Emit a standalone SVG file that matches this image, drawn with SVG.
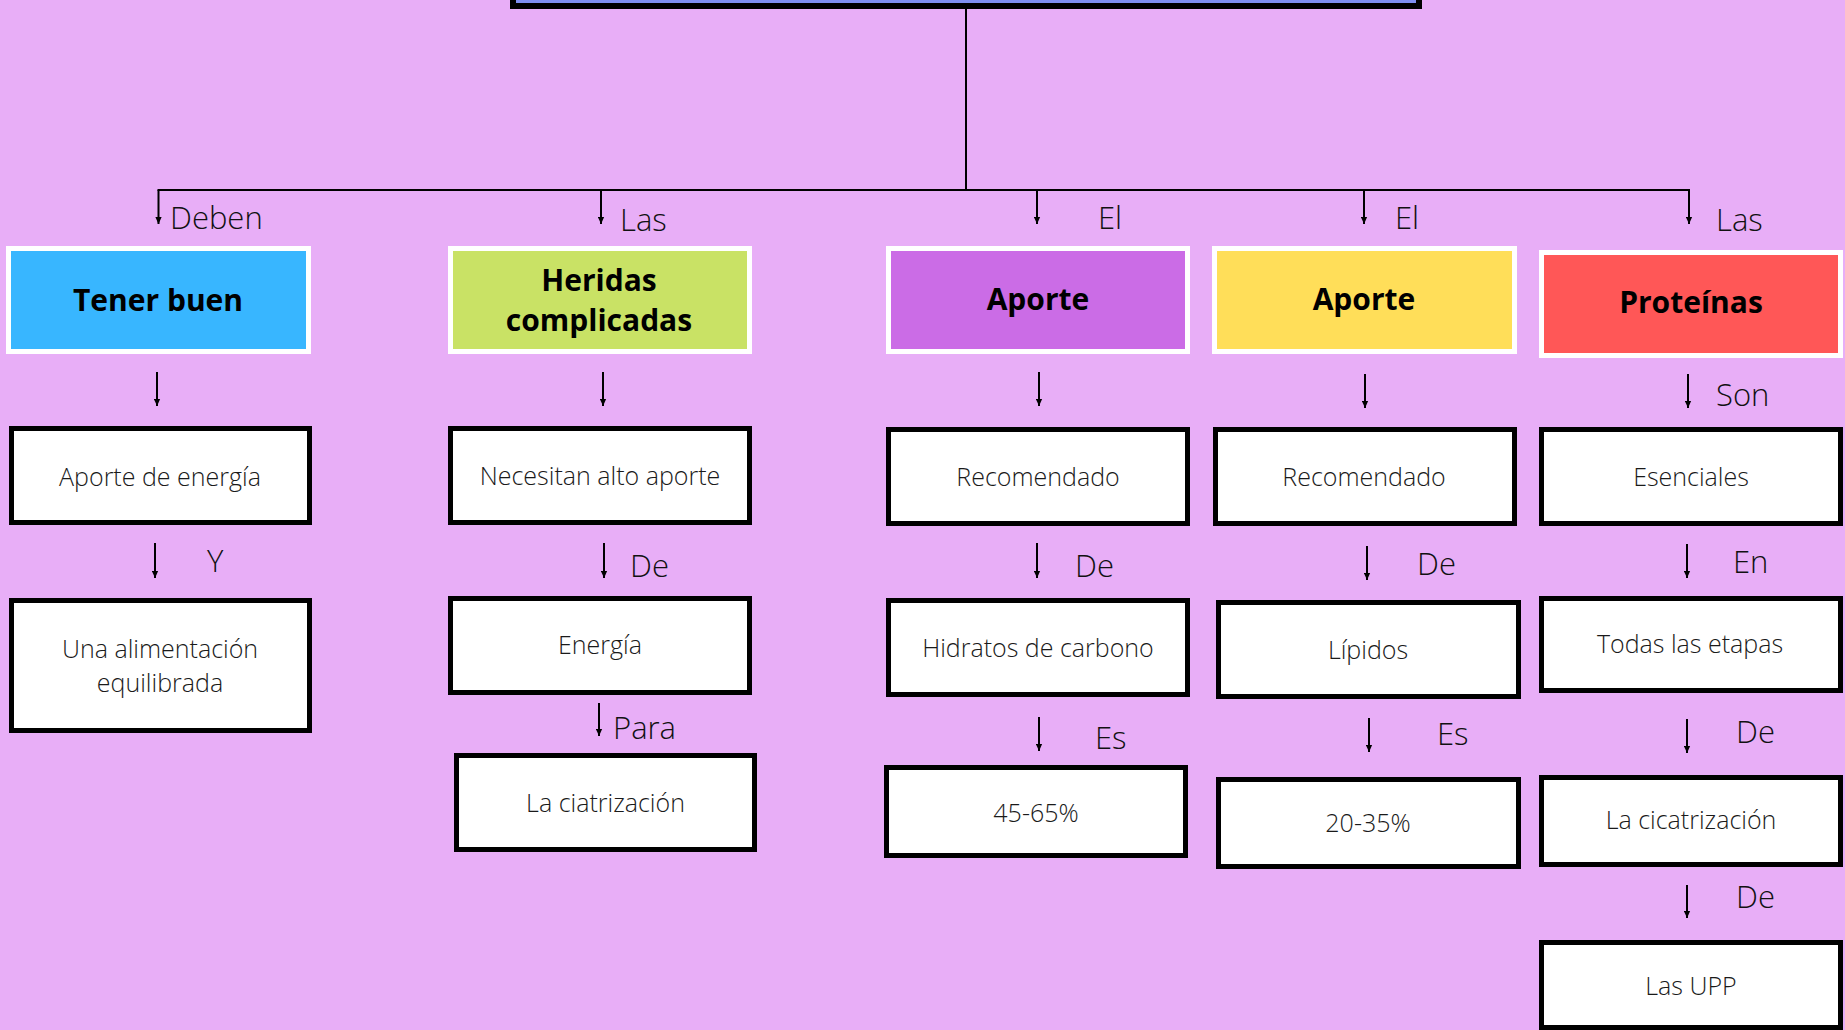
<svg xmlns="http://www.w3.org/2000/svg" width="1845" height="1030" viewBox="0 0 1845 1030">
<defs>
<style>
.bg{fill:#E8AEF7}
.hdr{stroke:#FFFFFF;stroke-width:5}
.box{fill:#FFFFFF;stroke:#000000;stroke-width:5}
.ht{font-family:"Open Sans","Liberation Sans",sans-serif;font-weight:700;font-size:30px;fill:#000;text-anchor:middle}
.bt{font-family:"Open Sans","Liberation Sans",sans-serif;font-weight:300;font-size:25px;fill:#1a1a1a;text-anchor:middle}
.lb{font-family:"Open Sans","Liberation Sans",sans-serif;font-weight:300;font-size:31px;fill:#111}
.ln{stroke:#000;stroke-width:2;fill:none}
</style>
<marker id="ah" viewBox="0 0 10 10" refX="10" refY="5" markerWidth="7" markerHeight="7" markerUnits="userSpaceOnUse" orient="auto"><path d="M0,0.5 L10,5 L0,9.5 z" fill="#000"/></marker>
</defs>
<rect class="bg" x="0" y="0" width="1845" height="1030"/>

<g id="top">
<rect x="513" y="-100" width="906" height="106" fill="#7F8FF0" stroke="#000" stroke-width="6"/>
</g>

<g id="connectors">
<line class="ln" x1="966" y1="6" x2="966" y2="190"/>
<line class="ln" x1="157.5" y1="190" x2="1690" y2="190"/>
<line class="ln" x1="158.5" y1="190" x2="158.5" y2="224" marker-end="url(#ah)"/>
<line class="ln" x1="601" y1="190" x2="601" y2="224" marker-end="url(#ah)"/>
<line class="ln" x1="1037" y1="190" x2="1037" y2="224" marker-end="url(#ah)"/>
<line class="ln" x1="1364" y1="190" x2="1364" y2="224" marker-end="url(#ah)"/>
<line class="ln" x1="1689" y1="190" x2="1689" y2="224" marker-end="url(#ah)"/>
<line class="ln" x1="157" y1="372" x2="157" y2="406" marker-end="url(#ah)"/>
<line class="ln" x1="155" y1="543" x2="155" y2="578" marker-end="url(#ah)"/>
<line class="ln" x1="603" y1="372" x2="603" y2="406" marker-end="url(#ah)"/>
<line class="ln" x1="604" y1="543" x2="604" y2="578" marker-end="url(#ah)"/>
<line class="ln" x1="599" y1="703" x2="599" y2="736" marker-end="url(#ah)"/>
<line class="ln" x1="1039" y1="372" x2="1039" y2="406" marker-end="url(#ah)"/>
<line class="ln" x1="1037" y1="543" x2="1037" y2="578" marker-end="url(#ah)"/>
<line class="ln" x1="1039" y1="717" x2="1039" y2="751" marker-end="url(#ah)"/>
<line class="ln" x1="1365" y1="374" x2="1365" y2="408" marker-end="url(#ah)"/>
<line class="ln" x1="1367" y1="546" x2="1367" y2="580" marker-end="url(#ah)"/>
<line class="ln" x1="1369" y1="718" x2="1369" y2="752" marker-end="url(#ah)"/>
<line class="ln" x1="1688" y1="374" x2="1688" y2="408" marker-end="url(#ah)"/>
<line class="ln" x1="1687" y1="544" x2="1687" y2="578" marker-end="url(#ah)"/>
<line class="ln" x1="1687" y1="719" x2="1687" y2="753" marker-end="url(#ah)"/>
<line class="ln" x1="1687" y1="885" x2="1687" y2="918" marker-end="url(#ah)"/>
<text class="lb" x="170" y="229">Deben</text>
<text class="lb" x="620" y="231">Las</text>
<text class="lb" x="1098" y="229">El</text>
<text class="lb" x="1395" y="229">El</text>
<text class="lb" x="1716" y="231">Las</text>
<text class="lb" x="207" y="572">Y</text>
<text class="lb" x="630" y="577">De</text>
<text class="lb" x="613" y="739">Para</text>
<text class="lb" x="1075" y="577">De</text>
<text class="lb" x="1095" y="749">Es</text>
<text class="lb" x="1417" y="575">De</text>
<text class="lb" x="1437" y="745">Es</text>
<text class="lb" x="1716" y="406">Son</text>
<text class="lb" x="1733" y="573">En</text>
<text class="lb" x="1736" y="743">De</text>
<text class="lb" x="1736" y="908">De</text>
</g>

<g id="n-tener">
<rect class="hdr" x="8.5" y="248.5" width="300" height="103" fill="#38B6FF"/>
<text class="ht" x="158" y="311">Tener buen</text>
</g>
<g id="n-heridas">
<rect class="hdr" x="450.5" y="248.5" width="299" height="103" fill="#C9E265"/>
<text class="ht" x="599" y="291">Heridas</text>
<text class="ht" x="599" y="331">complicadas</text>
</g>
<g id="n-aporte1">
<rect class="hdr" x="888.5" y="248.5" width="299" height="103" fill="#CB6CE6"/>
<text class="ht" x="1038" y="310">Aporte</text>
</g>
<g id="n-aporte2">
<rect class="hdr" x="1214.5" y="248.5" width="300" height="103" fill="#FFDE59"/>
<text class="ht" x="1364" y="310">Aporte</text>
</g>
<g id="n-proteinas">
<rect class="hdr" x="1541.5" y="252.5" width="299" height="103" fill="#FF5757"/>
<text class="ht" x="1691" y="313">Proteínas</text>
</g>

<g id="n-a1"><rect class="box" x="11.5" y="428.5" width="298" height="94"/><text class="bt" x="160" y="486">Aporte de energía</text></g>
<g id="n-a2"><rect class="box" x="11.5" y="600.5" width="298" height="130"/><text class="bt" x="160" y="658">Una alimentación</text><text class="bt" x="160" y="692">equilibrada</text></g>

<g id="n-b1"><rect class="box" x="450.5" y="428.5" width="299" height="94"/><text class="bt" x="600" y="485">Necesitan alto aporte</text></g>
<g id="n-b2"><rect class="box" x="450.5" y="598.5" width="299" height="94"/><text class="bt" x="600" y="654">Energía</text></g>
<g id="n-b3"><rect class="box" x="456.5" y="755.5" width="298" height="94"/><text class="bt" x="605.5" y="812">La ciatrización</text></g>

<g id="n-c1"><rect class="box" x="888.5" y="429.5" width="299" height="94"/><text class="bt" x="1038" y="486">Recomendado</text></g>
<g id="n-c2"><rect class="box" x="888.5" y="600.5" width="299" height="94"/><text class="bt" x="1038" y="657">Hidratos de carbono</text></g>
<g id="n-c3"><rect class="box" x="886.5" y="767.5" width="299" height="88"/><text class="bt" x="1036" y="822">45-65%</text></g>

<g id="n-d1"><rect class="box" x="1215.5" y="429.5" width="299" height="94"/><text class="bt" x="1364" y="486">Recomendado</text></g>
<g id="n-d2"><rect class="box" x="1218.5" y="602.5" width="300" height="94"/><text class="bt" x="1368" y="659">Lípidos</text></g>
<g id="n-d3"><rect class="box" x="1218.5" y="779.5" width="300" height="87"/><text class="bt" x="1368" y="832">20-35%</text></g>

<g id="n-e1"><rect class="box" x="1541.5" y="429.5" width="299" height="94"/><text class="bt" x="1691" y="486">Esenciales</text></g>
<g id="n-e2"><rect class="box" x="1541.5" y="598.5" width="299" height="92"/><text class="bt" x="1690" y="653">Todas las etapas</text></g>
<g id="n-e3"><rect class="box" x="1541.5" y="777.5" width="299" height="87"/><text class="bt" x="1691" y="829">La cicatrización</text></g>
<g id="n-e4"><rect class="box" x="1541.5" y="942.5" width="299" height="85"/><text class="bt" x="1691" y="995">Las UPP</text></g>
</svg>
